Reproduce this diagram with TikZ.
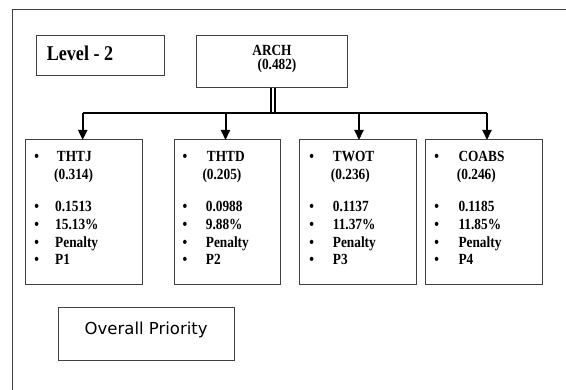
\documentclass[tikz,border=0pt]{standalone}
\usepackage{fontspec}
\setmainfont[FakeStretch=0.86]{Liberation Serif}
\newfontfamily\opfont{DejaVu Sans}
\usetikzlibrary{arrows.meta}
\definecolor{boxgray}{HTML}{404040}
\tikzset{
  boxnode/.style={draw=boxgray, line width=1pt, rectangle, outer sep=0pt, inner sep=0pt},
  itemtxt/.style={anchor=base west, inner sep=0pt, font=\fontsize{15.5}{17}\selectfont\bfseries},
  bul/.style={anchor=base, inner sep=0pt, font=\fontsize{15.5}{17}\selectfont\bfseries},
  busline/.style={line width=2.4pt},
  arr/.style={line width=2pt, -{Triangle[length=10pt,width=9pt]}},
}
\begin{document}
\begin{tikzpicture}[x=1pt,y=-1pt]
\useasboundingbox (0,0) rectangle (566,390);
% outer frame (runs beyond right and bottom edges)
\draw[line width=1pt, draw=boxgray] (12.3,400) -- (12.3,9.3) -- (580,9.3);

% Level box
\node[boxnode, minimum width=128pt, minimum height=40pt] (lvl) at (100,55.5) {};
\node[anchor=base west, inner sep=0pt, font=\fontsize{21}{23}\selectfont\bfseries] (lvltxt) at (46.7,61) {Level - 2};

% ARCH box
\node[boxnode, minimum width=150.5pt, minimum height=52pt] (arch) at (271.9,62) {};
\node[anchor=base, inner sep=0pt, font=\fontsize{15.5}{17}\selectfont\bfseries] (archt) at (272,56) {ARCH};
\node[anchor=base, inner sep=0pt, font=\fontsize{15.5}{17}\selectfont\bfseries] (archv) at (277,70) {(0.482)};

% bus
\coordinate (hub) at (273,113);
\coordinate (j1) at (82.7,113);
\coordinate (j2) at (225.5,113);
\coordinate (j3) at (359,113);
\coordinate (j4) at (487,113);
\draw[line width=1.3pt] (271,88) -- (271,113);
\draw[line width=1.3pt] (275,88) -- (275,113);
\draw[busline] (j1) -- (j4);

% boxes
\node[boxnode, minimum width=117pt, minimum height=145pt] (b1) at (83.5,212.5) {};
\node[boxnode, minimum width=106pt, minimum height=145pt] (b2) at (227,212.5) {};
\node[boxnode, minimum width=117pt, minimum height=145pt] (b3) at (357.5,212.5) {};
\node[boxnode, minimum width=117pt, minimum height=145pt] (b4) at (484.2,212.5) {};

\draw[arr] (j1) -- (j1 |- b1.north);
\draw[arr] (j2) -- (j2 |- b2.north);
\draw[arr] (j3) -- (j3 |- b3.north);
\draw[arr] (j4) -- (j4 |- b4.north);

% box 1
\node[bul] (b1p1) at (36.7,161.8) {\textbullet};
\node[itemtxt] (b1t1) at (56.7,161.8) {THTJ};
\node[itemtxt] (b1t2) at (54,179.8) {(0.314)};
\node[bul] (b1p2) at (36.7,211.2) {\textbullet};
\node[itemtxt] (b1t3) at (55,211.2) {0.1513};
\node[bul] (b1p3) at (36.7,229.8) {\textbullet};
\node[itemtxt] (b1t4) at (55,229.8) {15.13\%};
\node[bul] (b1p4) at (36.7,247.2) {\textbullet};
\node[itemtxt] (b1t5) at (55,247.2) {Penalty};
\node[bul] (b1p5) at (36.7,264.2) {\textbullet};
\node[itemtxt] (b1t6) at (55,264.2) {P1};

% box 2
\node[bul] (b2p1) at (185,161.8) {\textbullet};
\node[itemtxt] (b2t1) at (206.7,161.8) {THTD};
\node[itemtxt] (b2t2) at (202.3,179.8) {(0.205)};
\node[bul] (b2p2) at (185,211.2) {\textbullet};
\node[itemtxt] (b2t3) at (205.7,211.2) {0.0988};
\node[bul] (b2p3) at (185,229.8) {\textbullet};
\node[itemtxt] (b2t4) at (205.7,229.8) {9.88\%};
\node[bul] (b2p4) at (185,247.2) {\textbullet};
\node[itemtxt] (b2t5) at (205.7,247.2) {Penalty};
\node[bul] (b2p5) at (185,264.2) {\textbullet};
\node[itemtxt] (b2t6) at (205.7,264.2) {P2};

% box 3
\node[bul] (b3p1) at (311.7,161.8) {\textbullet};
\node[itemtxt] (b3t1) at (332.7,161.8) {TWOT};
\node[itemtxt] (b3t2) at (330.7,179.8) {(0.236)};
\node[bul] (b3p2) at (311.7,211.2) {\textbullet};
\node[itemtxt] (b3t3) at (332.7,211.2) {0.1137};
\node[bul] (b3p3) at (311.7,229.8) {\textbullet};
\node[itemtxt] (b3t4) at (332.7,229.8) {11.37\%};
\node[bul] (b3p4) at (311.7,247.2) {\textbullet};
\node[itemtxt] (b3t5) at (332.7,247.2) {Penalty};
\node[bul] (b3p5) at (311.7,264.2) {\textbullet};
\node[itemtxt] (b3t6) at (332.7,264.2) {P3};

% box 4
\node[bul] (b4p1) at (436.7,161.8) {\textbullet};
\node[itemtxt] (b4t1) at (458.3,161.8) {COABS};
\node[itemtxt] (b4t2) at (456.7,179.8) {(0.246)};
\node[bul] (b4p2) at (436.7,211.2) {\textbullet};
\node[itemtxt] (b4t3) at (458.3,211.2) {0.1185};
\node[bul] (b4p3) at (436.7,229.8) {\textbullet};
\node[itemtxt] (b4t4) at (458.3,229.8) {11.85\%};
\node[bul] (b4p4) at (436.7,247.2) {\textbullet};
\node[itemtxt] (b4t5) at (458.3,247.2) {Penalty};
\node[bul] (b4p5) at (436.7,264.2) {\textbullet};
\node[itemtxt] (b4t6) at (458.3,264.2) {P4};

% Overall priority
\node[boxnode, minimum width=175.7pt, minimum height=53pt] (op) at (146.2,334.5) {};
\node[inner sep=0pt, font=\opfont\fontsize{16.5}{18}\selectfont] (optxt) at (146.2,330) {Overall Priority};
\end{tikzpicture}
\end{document}
